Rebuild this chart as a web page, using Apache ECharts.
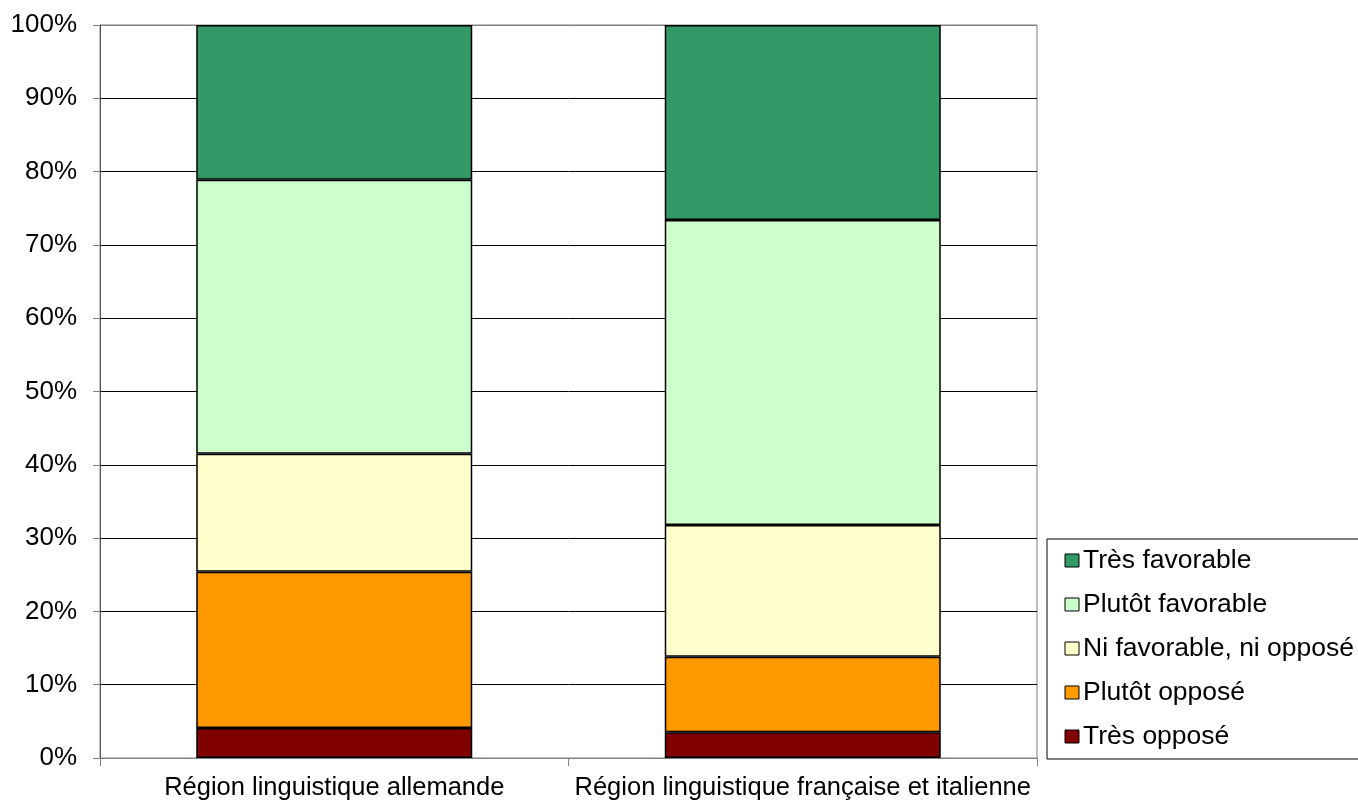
<!DOCTYPE html>
<html><head><meta charset="utf-8">
<script src="https://cdn.jsdelivr.net/npm/echarts@6/dist/echarts.min.js"></script>
<style>html,body{margin:0;padding:0;background:#fff;}#c{width:1358px;height:802px;}</style>
</head><body><div id="c"></div>
<script>
const categories = ['Région linguistique allemande', 'Région linguistique française et italienne'];
const tresOppose = [4.1, 3.5];
const plutotOppose = [21.3, 10.3];
const niNi = [16.1, 18.0];
const plutotFavorable = [37.4, 41.6];
const tresFavorable = [21.1, 26.6];
const seriesNames = ['Très opposé', 'Plutôt opposé', 'Ni favorable, ni opposé', 'Plutôt favorable', 'Très favorable'];
const seriesColors = ['#800000', '#FF9900', '#FFFFCC', '#CCFFCC', '#339966'];
const seriesData = [tresOppose, plutotOppose, niNi, plutotFavorable, tresFavorable];

const font = 'Liberation Sans, Arial, sans-serif';
const chart = echarts.init(document.getElementById('c'));
const gridColors = ['#808080','#000','#000','#000','#000','#000','#000','#000','#000','#000','#808080'];
chart.setOption({
  animation: false,
  grid: { left: 100, top: 25, width: 937, height: 733, show: true, borderColor: '#808080', borderWidth: 1, containLabel: false },
  legend: {
    orient: 'vertical', left: 1047, top: 539,
    data: seriesNames.slice().reverse(),
    itemWidth: 14, itemHeight: 13, itemGap: 17,
    borderColor: '#000', borderWidth: 1,
    padding: [8, 20, 9, 17.5],
    textStyle: { fontFamily: font, fontSize: 26.5, color: '#000', lineHeight: 26.5, padding: [0,0,0,-1] },
    icon: 'rect',
    itemStyle: { borderColor: '#000', borderWidth: 1 }
  },
  xAxis: {
    type: 'category', data: categories,
    axisLine: { lineStyle: { color: '#808080', width: 1 } },
    axisTick: { show: true, length: 8, lineStyle: { color: '#808080' } },
    axisLabel: { fontFamily: font, fontSize: 25.5, color: '#000', margin: 17, interval: 0, hideOverlap: false }
  },
  yAxis: {
    type: 'value', min: 0, max: 100, interval: 10,
    axisLine: { show: true, lineStyle: { color: '#555', width: 1 } },
    axisTick: { show: true, length: 7, lineStyle: { color: '#808080' } },
    axisLabel: { fontFamily: font, fontSize: 26, color: '#000', margin: 23, formatter: '{value}%' },
    splitLine: { show: true, lineStyle: { color: gridColors, width: 1 } }
  },
  series: seriesNames.map((n, i) => ({
    name: n, type: 'bar', stack: 'total', barWidth: 276,
    data: seriesData[i],
    itemStyle: { color: seriesColors[i], borderColor: '#000', borderWidth: 1.5 },
    emphasis: { disabled: true }
  }))
});
</script></body></html>
